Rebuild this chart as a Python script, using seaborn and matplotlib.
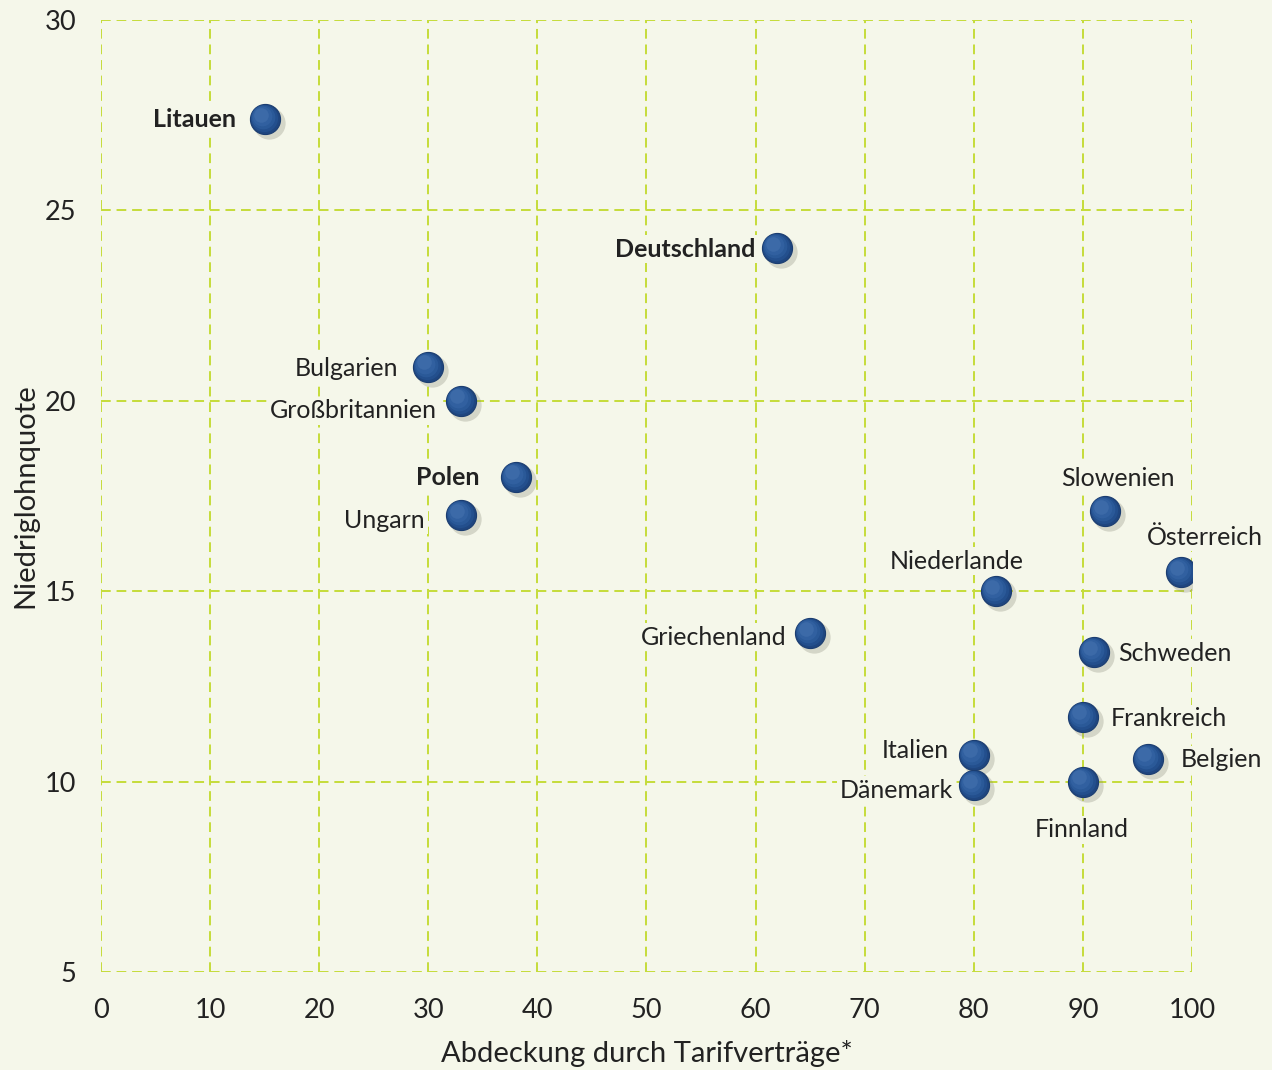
import matplotlib
matplotlib.use("Agg")
import matplotlib.pyplot as plt
import seaborn as sns
import pandas as pd
import matplotlib.transforms as mtransforms

countries = ["Litauen", "Deutschland", "Bulgarien", "Großbritannien", "Polen", "Ungarn",
             "Slowenien", "Österreich", "Niederlande", "Griechenland", "Schweden",
             "Frankreich", "Italien", "Belgien", "Dänemark", "Finnland"]
coverage = [15, 62, 30, 33, 38, 33, 92, 99, 82, 65, 91, 90, 80, 96, 80, 90]
low_wage = [27.4, 24.0, 20.9, 20.0, 18.0, 17.0, 17.1, 15.5, 15.0, 13.9, 13.4, 11.7, 10.7, 10.6, 9.9, 10.0]
bold_countries = ["Litauen", "Deutschland", "Polen"]

x_ticks = [0, 10, 20, 30, 40, 50, 60, 70, 80, 90, 100]
y_ticks = [5, 10, 15, 20, 25, 30]
x_label = "Abdeckung durch Tarifverträge*"
y_label = "Niedriglohnquote"

# label placement (pixel offsets from point centre, ha)
label_style = {
    "Litauen": (-29, 0, "right"),
    "Deutschland": (-22, -1, "right"),
    "Bulgarien": (-30, -2, "right"),
    "Großbritannien": (-24, -10, "right"),
    "Polen": (-36, -1, "right"),
    "Ungarn": (-36, -5, "right"),
    "Slowenien": (13, 33, "center"),
    "Österreich": (24, 35, "center"),
    "Niederlande": (-39, 30, "center"),
    "Griechenland": (-24, -4, "right"),
    "Schweden": (24, -1, "left"),
    "Frankreich": (28, -2, "left"),
    "Italien": (-25, 4, "right"),
    "Belgien": (32, -1, "left"),
    "Dänemark": (-21, -5, "right"),
    "Finnland": (-1, -48, "center"),
}

df = pd.DataFrame({"country": countries, "x": coverage, "y": low_wage})

bg = "#f5f7ea"
grid_c = "#c5dc3a"
sns.set_theme(style="white")
plt.rcParams["font.family"] = ["Lato", "DejaVu Sans"]

fig = plt.figure(figsize=(12.72, 10.70), dpi=100, facecolor=bg)
ax = fig.add_axes([101/1272, 1-972/1070, (1192-101)/1272, (972-20)/1070])
ax.set_facecolor(bg)

ax.set_xlim(0, 100)
ax.set_ylim(5, 30)
ax.set_xticks(x_ticks)
ax.set_yticks(y_ticks)
for v in x_ticks:
    ax.axvline(v, color=grid_c, lw=1.4, ls=(0, (5, 3)), zorder=0)
for v in y_ticks:
    ax.axhline(v, color=grid_c, lw=1.4, ls=(0, (5, 3)), zorder=0)
for s in ax.spines.values():
    s.set_visible(False)
ax.tick_params(length=0, labelsize=19.5, colors="#222222")
ax.tick_params(axis="x", pad=19)
ax.tick_params(axis="y", pad=18)

# shadow
shadow = mtransforms.offset_copy(ax.transData, fig=fig, x=4, y=-4, units="dots")
ax.scatter(df["x"], df["y"], s=540, color="#8a8a7a", alpha=0.30, linewidths=0,
           transform=shadow, zorder=2)
sns.scatterplot(data=df, x="x", y="y", ax=ax, s=470, color="#1f4680",
                edgecolor="#1b3d70", linewidth=0.8, zorder=3, legend=False)
# soft layered highlight for sphere look
layers = [(380, -1.0, 1.0, "#24518f", 0.9), (290, -2.0, 2.0, "#2d5c9c", 0.8),
          (200, -3.0, 3.0, "#3766a6", 0.6), (110, -4.0, 4.5, "#4a77b2", 0.45)]
for size, ox, oy, col, a in layers:
    t = mtransforms.offset_copy(ax.transData, fig=fig, x=ox, y=oy, units="dots")
    ax.scatter(df["x"], df["y"], s=size, color=col, alpha=a, linewidths=0,
               transform=t, zorder=4)
ax.set_xlabel(x_label, fontsize=21, color="#222222", labelpad=12)
ax.set_ylabel(y_label, fontsize=21, color="#222222", labelpad=4)

for c, x, y in zip(countries, coverage, low_wage):
    dx, dy, ha = label_style[c]
    ax.annotate(c, (x, y), xytext=(dx, dy), textcoords="offset pixels",
                ha=ha, va="center", fontsize=18, color="#222222",
                fontweight="bold" if c in bold_countries else "normal",
                bbox=dict(boxstyle="square,pad=0.1", fc=bg, ec="none"), zorder=1)

fig.savefig("out.png", dpi=100, facecolor=bg)
